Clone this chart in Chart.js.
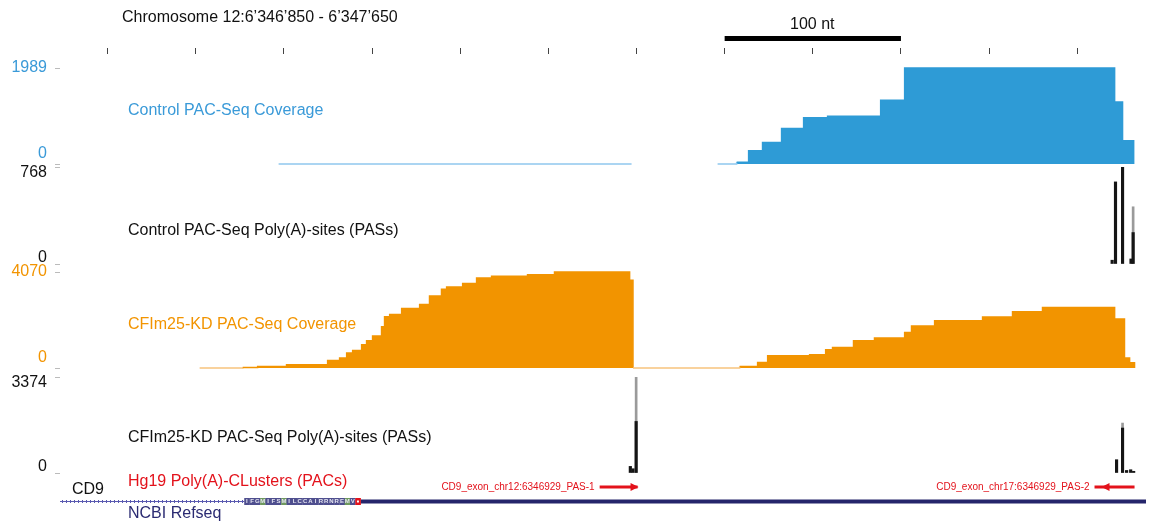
<!DOCTYPE html>
<html>
<head>
<meta charset="utf-8">
<script src="https://cdn.jsdelivr.net/npm/chart.js@4.4.0/dist/chart.umd.min.js"></script>
<style>
  html, body { margin: 0; padding: 0; background: #fff; }
  #wrap { position: relative; width: 1154px; height: 523px; overflow: hidden; font-family: "Liberation Sans", Arial, sans-serif; }
  #wrap canvas { position: absolute; left: 0; }
  .lbl { position: absolute; white-space: nowrap; font-size: 16px; line-height: 16px; }
</style>
</head>
<body>
<div id="wrap">
  <canvas id="ruler" width="1154" height="60" style="top:0px"></canvas>
  <canvas id="covCtrl" width="1154" height="146" style="top:48px"></canvas>
  <canvas id="pasCtrl" width="1154" height="147" style="top:147px"></canvas>
  <canvas id="covKd" width="1154" height="146" style="top:252px"></canvas>
  <canvas id="pasKd" width="1154" height="146" style="top:357px"></canvas>
  <canvas id="genes" width="1154" height="47" style="top:476px"></canvas>

  <div class="lbl" style="left:122px;top:9px;color:#111">Chromosome 12:6’346’850 - 6’347’650</div>
  <div class="lbl" style="left:790px;top:16px;color:#111">100 nt</div>
  <div class="lbl" style="left:128px;top:102px;color:#3a9ad8">Control PAC-Seq Coverage</div>
  <div class="lbl" style="left:128px;top:222px;color:#111">Control PAC-Seq Poly(A)-sites (PASs)</div>
  <div class="lbl" style="left:128px;top:316px;color:#f29400">CFIm25-KD PAC-Seq Coverage</div>
  <div class="lbl" style="left:128px;top:429px;color:#111">CFIm25-KD PAC-Seq Poly(A)-sites (PASs)</div>
  <div class="lbl" style="left:128px;top:473px;color:#e3121b">Hg19 Poly(A)-CLusters (PACs)</div>
  <div class="lbl" style="left:72px;top:481px;color:#111">CD9</div>
  <div class="lbl" style="left:128px;top:505px;color:#2b2b72">NCBI Refseq</div>
</div>
<script>
// x positions are nucleotides counted from the first ruler tick
const xMin = -27;
const xMax = 589;
const rulerTicks = [0, 50, 100, 150, 200, 250, 300, 350, 400, 450, 500, 550];
const scaleBar = [350, 450];

// Control PAC-Seq coverage (each value holds until the next position)
const ctrlCovPos = [97, 297.2, 297.6, 346, 356.8, 363.6, 371.5, 382.3, 394.8, 408.4, 438.5, 452.1, 571.2, 575.7, 582];
const ctrlCovVal = [0, 0, null, 0, 35, 275, 448, 737, 956, 991, 1322, 1989, 1287, 481, 0];
const ctrlCovMax = 1989;

// Control PAC-Seq poly(A) sites
const ctrlPasPos = [569.8, 571.7, 575.7, 580.5, 581.7];
const ctrlPasVal = [30, 650, 768, 40, 249];
const ctrlPasFaintPos = [581.7];
const ctrlPasFaintVal = [453];
const ctrlPasMax = 768;

// CFIm25-KD coverage
const kdCovPos = [52.2, 76.6, 85.1, 101.5, 124.8, 131.6, 135.6, 139, 144.1, 146.9, 150.3, 155.4, 157.1, 160, 166.8,
  177, 182.6, 189.4, 192.3, 201.4, 209.3, 217.8, 238.2, 253.5, 296.1, 298, 358.5, 368.7, 374.4, 398.2, 407.3,
  411.2, 423.1, 435, 452.1, 456, 469.1, 496.3, 513.3, 530.3, 571.2, 576.8, 579.7, 582.5];
const kdCovVal = [0, 25, 67, 139, 320, 421, 632, 737, 981, 1150, 1360, 1751, 2172, 2273, 2526,
  2694, 3056, 3339, 3435, 3579, 3814, 3886, 3957, 4070, 3717, 0, 68, 237, 522, 564, 776,
  873, 1157, 1272, 1509, 1780, 2005, 2162, 2387, 2569, 2078, 424, 225, 0];
const kdCovMax = 4070;

// CFIm25-KD poly(A) sites
const kdPasPos = [296.5, 298, 299.8, 572.3, 575.7, 578, 580.3, 582];
const kdPasVal = [232, 150, 1812, 467, 1580, 90, 115, 60];
const kdPasFaintPos = [299.8, 575.7];
const kdPasFaintVal = [3374, 1755];
const kdPasMax = 3374;

// annotation tracks
const pacNames = ['CD9_exon_chr12:6346929_PAS-1', 'CD9_exon_chr17:6346929_PAS-2'];
const pacStart = [279.1, 559.8];
const pacEnd = [300.6, 582.5];
const pacStrand = ['+', '-'];
const intron = [-27, 77.5];
const cdsStart = 77.5;
const aminoAcids = 'IFGMIFSMILCCAIRRNREMV*';
const utr = [143.5, 589];

const FONT = '"Liberation Sans", Arial, sans-serif';
Chart.defaults.font.family = FONT;
Chart.defaults.animation = false;
Chart.defaults.plugins.legend.display = false;
Chart.defaults.plugins.tooltip.enabled = false;

const blue = '#2e9bd6', blueLight = '#8fc7ee';
const orange = '#f29400', orangeLight = '#f7c47e';

function pts(xs, ys) {
  return xs.map((x, i) => ({ x: x, y: ys[i] }));
}

function xScale() {
  return { type: 'linear', min: xMin, max: xMax, display: false, offset: false };
}

// lh: half of it is how far the labels are nudged off their tick
function yScale(max, color, lh, maxBelow) {
  return {
    min: 0, max: max,
    afterFit: (s) => { s.width = 60; },
    afterBuildTicks: (s) => { s.ticks = [{ value: 0 }, { value: max }]; },
    border: { display: false },
    grid: { drawOnChartArea: false, drawTicks: true, tickLength: 5, color: '#bbb' },
    ticks: {
      color: color, padding: 8, font: { size: 16, lineHeight: lh },
      callback: (v) => v === 0 ? ['0', ''] : (maxBelow ? ['', String(v)] : String(v))
    }
  };
}

// chart area = track box; room above/below for the axis labels
const trackLayout = { padding: { top: 20, bottom: 30, left: 0, right: 8 } };

function coverage(id, xs, ys, max, color, light, labelColor) {
  new Chart(document.getElementById(id), {
    type: 'line',
    data: {
      datasets: [{
        data: pts(xs, ys),
        stepped: true,
        fill: 'origin',
        backgroundColor: color,
        borderColor: color,
        borderWidth: 1.5,
        pointRadius: 0,
        spanGaps: false,
        clip: 3,
        segment: { borderColor: (c) => c.p0.parsed.y === 0 ? light : color }
      }]
    },
    options: {
      responsive: false,
      layout: trackLayout,
      scales: { x: xScale(), y: yScale(max, labelColor, 1.25, false) }
    }
  });
}

function sites(id, xs, ys, fxs, fys, max) {
  new Chart(document.getElementById(id), {
    type: 'bar',
    data: {
      datasets: [
        { data: pts(xs, ys), backgroundColor: '#151515', barThickness: 2.5, grouped: false },
        { data: pts(fxs, fys), backgroundColor: '#9a9a9a', barThickness: 2, grouped: false }
      ]
    },
    options: {
      responsive: false,
      layout: trackLayout,
      scales: { x: xScale(), y: yScale(max, '#111', 0.75, true) }
    }
  });
}

coverage('covCtrl', ctrlCovPos, ctrlCovVal, ctrlCovMax, blue, blueLight, '#3a9ad8');
sites('pasCtrl', ctrlPasPos, ctrlPasVal, ctrlPasFaintPos, ctrlPasFaintVal, ctrlPasMax);
coverage('covKd', kdCovPos, kdCovVal, kdCovMax, orange, orangeLight, '#f29400');
sites('pasKd', kdPasPos, kdPasVal, kdPasFaintPos, kdPasFaintVal, kdPasMax);

// ruler with 50 nt ticks and the 100 nt scale bar
const scaleBarPlugin = {
  id: 'scaleBar',
  afterDraw(chart) {
    const x = chart.scales.x;
    const ctx = chart.ctx;
    ctx.save();
    ctx.fillStyle = '#000';
    const a = x.getPixelForValue(scaleBar[0]), b = x.getPixelForValue(scaleBar[1]);
    ctx.fillRect(a, 36, b - a, 5);
    ctx.restore();
  }
};

new Chart(document.getElementById('ruler'), {
  type: 'scatter',
  data: { datasets: [{ data: [] }] },
  options: {
    responsive: false,
    layout: { padding: { top: 48, bottom: 0, left: 60, right: 8 } },
    scales: {
      x: {
        type: 'linear', position: 'top', min: xMin, max: xMax,
        afterBuildTicks: (s) => { s.ticks = rulerTicks.map(v => ({ value: v })); },
        border: { display: false },
        grid: { drawOnChartArea: false, drawTicks: true, tickLength: 6, color: '#444' },
        ticks: { display: false }
      },
      y: { display: false }
    }
  },
  plugins: [scaleBarPlugin]
});

// PAC arrows and the CD9 gene model
const geneTrack = {
  id: 'geneTrack',
  afterDraw(chart) {
    const ctx = chart.ctx;
    const px = (v) => chart.scales.x.getPixelForValue(v);
    ctx.save();

    // poly(A) clusters
    const ya = 11;
    ctx.font = '10px ' + FONT;
    ctx.textBaseline = 'middle';
    ctx.textAlign = 'right';
    ctx.fillStyle = '#e3121b';
    pacNames.forEach((name, i) => {
      const a = px(pacStart[i]), b = px(pacEnd[i]);
      ctx.fillText(name, a - 5, ya + 0.5);
      ctx.fillRect(a, ya - 1.5, b - a, 3);
      ctx.beginPath();
      if (pacStrand[i] === '+') {
        ctx.moveTo(b + 1, ya); ctx.lineTo(b - 7, ya - 4); ctx.lineTo(b - 7, ya + 4);
      } else {
        const h = a + (b - a) * 0.3;
        ctx.moveTo(h - 5, ya); ctx.lineTo(h + 3, ya - 4); ctx.lineTo(h + 3, ya + 4);
      }
      ctx.closePath();
      ctx.fill();
    });

    // gene: intron, coding exon, 3' UTR
    const yg = 25;
    const i0 = px(intron[0]), i1 = px(intron[1]);
    ctx.strokeStyle = '#5a5ab0';
    ctx.lineWidth = 1;
    ctx.beginPath();
    ctx.moveTo(i0, yg + 0.5); ctx.lineTo(i1, yg + 0.5);
    for (let xx = i0 + 2; xx < i1; xx += 4) {
      ctx.moveTo(xx + 0.5, yg - 1); ctx.lineTo(xx + 0.5, yg + 2);
    }
    ctx.stroke();

    const u0 = px(utr[0]), u1 = px(utr[1]);
    ctx.fillStyle = '#25256b';
    ctx.fillRect(u0, yg - 1.5, u1 - u0, 4);

    ctx.font = 'bold 6px ' + FONT;
    ctx.textAlign = 'center';
    for (let k = 0; k < aminoAcids.length; k++) {
      const a = px(cdsStart + k * 3), b = px(cdsStart + (k + 1) * 3);
      const aa = aminoAcids[k];
      ctx.fillStyle = aa === '*' ? '#e3121b' : (aa === 'M' ? '#6f9a5e' : '#4e4e8e');
      ctx.fillRect(a, yg - 3, b - a + 0.3, 7);
      if (aa !== '*') {
        ctx.fillStyle = '#e6e6f2';
        ctx.fillText(aa, (a + b) / 2, yg + 0.8);
      } else {
        ctx.fillStyle = '#fff';
        ctx.fillRect((a + b) / 2 - 1, yg - 0.5, 2, 2);
      }
    }
    ctx.restore();
  }
};

new Chart(document.getElementById('genes'), {
  type: 'scatter',
  data: { datasets: [{ data: [] }] },
  options: {
    responsive: false,
    layout: { padding: { top: 0, bottom: 0, left: 60, right: 8 } },
    scales: {
      x: { type: 'linear', min: xMin, max: xMax, display: false },
      y: { display: false, min: 0, max: 1 }
    }
  },
  plugins: [geneTrack]
});
</script>
</body>
</html>
